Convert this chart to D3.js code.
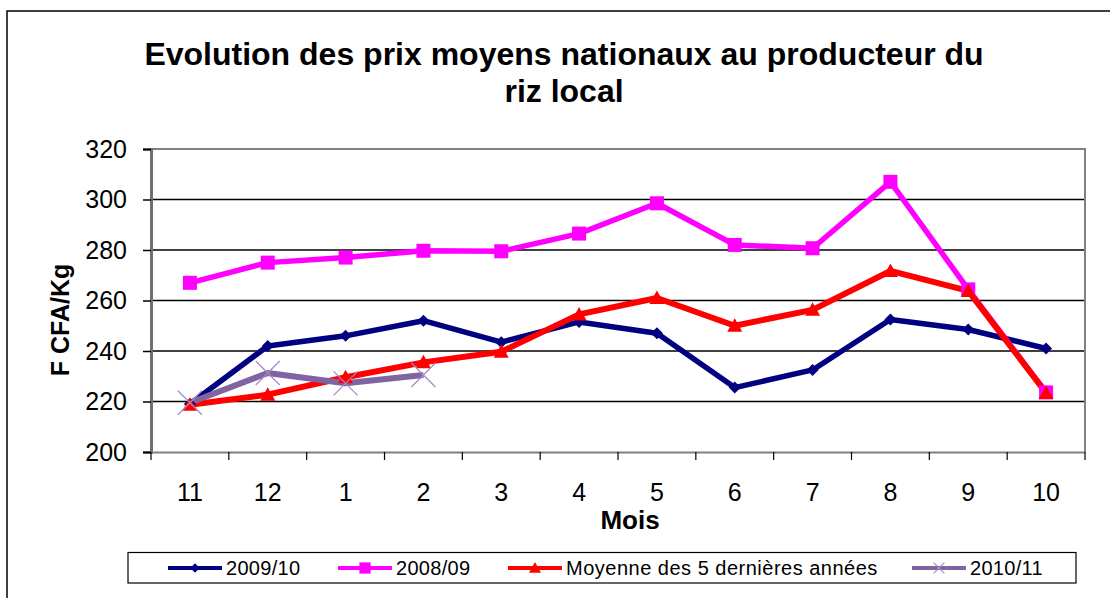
<!DOCTYPE html>
<html><head><meta charset="utf-8">
<script src="https://cdn.jsdelivr.net/npm/d3@7"></script>
<style>
html,body{margin:0;padding:0;background:#fff;}
svg{display:block;font-family:"Liberation Sans",Arial,sans-serif;}
</style></head>
<body>
<svg id="chart" width="1110" height="598"></svg>
<script>
const months = ["11","12","1","2","3","4","5","6","7","8","9","10"];
const yTicks = [200,220,240,260,280,300,320];
const s2009 = [219,242,246,252,243.5,251.5,247,225.5,232.5,252.5,248.5,241];
const s2008 = [267,275,277,279.7,279.5,286.5,298.5,282,280.7,307,264.4,223.6];
const sMoy  = [218.7,222.7,229.6,235.5,239.7,254.5,261,250,256.3,271.7,263.8,223.4];
const s2010 = [219.5,231.3,227.2,230.5];
const seriesNames = ["2009/10","2008/09","Moyenne des 5 dernières années","2010/11"];

const svg = d3.select("#chart");
const L = 151, R = 1085, T = 149, B = 452;

const x = d3.scaleBand().domain(months).range([L, R]).padding(0);
const cx = m => x(m) + x.bandwidth()/2;
const y = d3.scaleLinear().domain([200,320]).range([B, T]);

// outer chart border
svg.append("rect").attr("x",7).attr("y",11).attr("width",1120).attr("height",620)
  .attr("fill","none").attr("stroke","#000").attr("stroke-width",1.5);

// title
const title = svg.append("text").attr("text-anchor","middle")
  .attr("font-weight","bold").attr("font-size",32).attr("fill","#000");
title.append("tspan").attr("x",564).attr("y",65).text("Evolution des prix moyens nationaux au producteur du");
title.append("tspan").attr("x",564).attr("y",102).text("riz local");

// gridlines
svg.append("g").selectAll("line").data(yTicks.filter(d => d>200 && d<320)).join("line")
  .attr("x1",L).attr("x2",R).attr("y1",d=>y(d)).attr("y2",d=>y(d))
  .attr("stroke","#000").attr("stroke-width",1.5);

// plot border top/right
svg.append("path").attr("d",`M${L},${T}H${R}V${B}`).attr("fill","none")
  .attr("stroke","#808080").attr("stroke-width",2);

// y axis
const yAxis = svg.append("g").attr("transform",`translate(${L},0)`)
  .call(d3.axisLeft(y).tickValues(yTicks).tickSize(8).tickPadding(16).tickFormat(d3.format("d")));
yAxis.select(".domain").attr("stroke","#707070").attr("stroke-width",3);
yAxis.selectAll(".tick line").attr("stroke","#000").attr("stroke-width",1.5);
yAxis.selectAll("text").attr("font-size",25).attr("fill","#000")
  .attr("font-family","'Liberation Sans',Arial,sans-serif");

// x axis
const xAxis = svg.append("g").attr("transform",`translate(0,${B})`)
  .call(d3.axisBottom(x).tickSize(0));
xAxis.select(".domain").attr("stroke","#808080").attr("stroke-width",2);
xAxis.selectAll("text").attr("font-size",25).attr("fill","#000").attr("y",40).attr("dy","0.35em")
  .attr("font-family","'Liberation Sans',Arial,sans-serif");
// tick marks at category boundaries
const bounds = months.map(m => x(m)).concat([x(months[months.length-1]) + x.bandwidth()]);
svg.append("g").selectAll("line").data(bounds).join("line")
  .attr("x1",d=>d).attr("x2",d=>d).attr("y1",B).attr("y2",B+8)
  .attr("stroke","#000").attr("stroke-width",1.2);

// axis titles
svg.append("text").attr("x",630).attr("y",529).attr("text-anchor","middle")
  .attr("font-weight","bold").attr("font-size",26).text("Mois");
svg.append("text").attr("transform","translate(69,320) rotate(-90)").attr("text-anchor","middle")
  .attr("font-weight","bold").attr("font-size",25).text("F CFA/Kg");

// series
const series = [
  {name:seriesNames[0], vals:s2009, color:"#000080", w:5.5, marker:"diamond"},
  {name:seriesNames[1], vals:s2008, color:"#FF00FF", w:5.5, marker:"square"},
  {name:seriesNames[2], vals:sMoy,  color:"#FF0000", w:6, marker:"triangle"},
  {name:seriesNames[3], vals:s2010, color:"#8064A2", w:6, marker:"x"}
];
const line = d3.line().x((d,i)=>cx(months[i])).y(d=>y(d));
const gl = svg.append("g");
series.forEach(s => {
  gl.append("path").datum(s.vals).attr("d",line).attr("fill","none")
    .attr("stroke",s.color).attr("stroke-width",s.w).attr("stroke-linejoin","round");
});

function drawMarker(g, type, px, py, color, scale){
  scale = scale || 1;
  if (type==="diamond"){
    const r = 6*scale;
    g.append("path").attr("d",`M${px},${py-r}L${px+r},${py}L${px},${py+r}L${px-r},${py}Z`).attr("fill",color);
  } else if (type==="square"){
    const r = 7*scale;
    g.append("rect").attr("x",px-r).attr("y",py-r).attr("width",2*r).attr("height",2*r).attr("fill",color);
  } else if (type==="triangle"){
    const r = 7.5*scale;
    g.append("path").attr("d",`M${px},${py-r}L${px+r},${py+r*0.8}L${px-r},${py+r*0.8}Z`).attr("fill",color);
  } else if (type==="x"){
    const r = 12*scale;
    g.append("path").attr("d",`M${px-r},${py-r}L${px+r},${py+r}M${px-r},${py+r}L${px+r},${py-r}`)
      .attr("stroke","#9F8CC8").attr("stroke-width",1.2).attr("fill","none");
  }
}
const gm = svg.append("g");
series.forEach(s => {
  s.vals.forEach((v,i) => drawMarker(gm, s.marker, cx(months[i]), y(v), s.color, 1));
});

// legend
const lg = svg.append("g");
lg.append("rect").attr("x",128).attr("y",552.5).attr("width",948).attr("height",30.5)
  .attr("fill","#fff").attr("stroke","#000").attr("stroke-width",1.2);
const legendX = [168, 338, 508, 912];
series.forEach((s,i) => {
  const x0 = legendX[i], ly = 568;
  lg.append("line").attr("x1",x0).attr("x2",x0+54).attr("y1",ly).attr("y2",ly)
    .attr("stroke",s.color).attr("stroke-width",4);
  drawMarker(lg, s.marker, x0+27, ly, s.color, s.marker==="x" ? 0.45 : 0.8);
  lg.append("text").attr("x",x0+58).attr("y",ly+7).attr("font-size",20)
    .attr("letter-spacing", i===2 ? 0.5 : 0.3).attr("fill","#000").text(s.name);
});
</script>
</body></html>
